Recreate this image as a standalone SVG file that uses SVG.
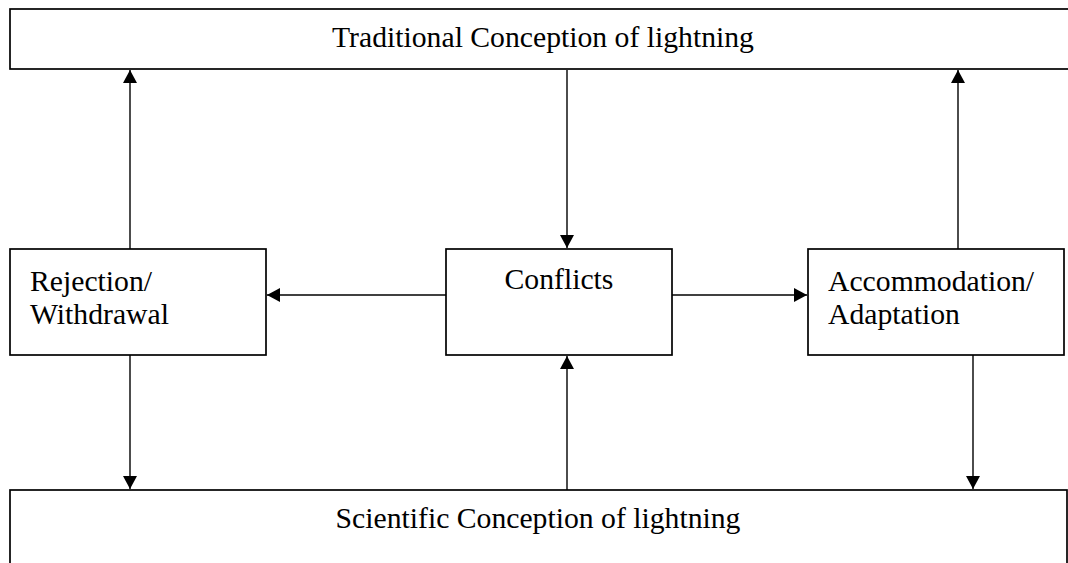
<svg xmlns="http://www.w3.org/2000/svg" width="1068" height="563" viewBox="0 0 1068 563">
<style>
.box{fill:#fff;stroke:#000;stroke-width:1.7}
text{font-family:'Liberation Serif','Times New Roman',Times,serif;font-size:29.7px;fill:#000}
.c{stroke:#000;stroke-width:1.4;fill:none;marker-end:url(#ah)}
</style>
<defs>
<marker id="ah" markerUnits="userSpaceOnUse" markerWidth="14" markerHeight="14" refX="13" refY="7" orient="auto">
<path d="M0,0 L13,7 L0,14 Z" fill="#000"/>
</marker>
</defs>
<rect width="1068" height="563" fill="#fff"/>
<g id="traditional">
<rect class="box" x="10" y="9" width="1070" height="60"/>
<text x="543" y="47" text-anchor="middle">Traditional Conception of lightning</text>
</g>
<g id="scientific">
<rect class="box" x="10" y="490" width="1057" height="90"/>
<text x="538" y="528" text-anchor="middle">Scientific Conception of lightning</text>
</g>
<g id="rejection">
<rect class="box" x="10" y="249" width="256" height="106"/>
<text x="30" y="291">Rejection/</text>
<text x="30" y="324">Withdrawal</text>
</g>
<g id="conflicts">
<rect class="box" x="446" y="249" width="226" height="106"/>
<text x="559" y="289" text-anchor="middle">Conflicts</text>
</g>
<g id="accommodation">
<rect class="box" x="808" y="249" width="256" height="106"/>
<text x="828" y="291">Accommodation/</text>
<text x="828" y="324">Adaptation</text>
</g>
<g id="connectors">
<line class="c" x1="130" y1="249" x2="130" y2="70"/>
<line class="c" x1="958" y1="249" x2="958" y2="70"/>
<line class="c" x1="567" y1="70" x2="567" y2="248"/>
<line class="c" x1="567" y1="490" x2="567" y2="356"/>
<line class="c" x1="446" y1="295" x2="267" y2="295"/>
<line class="c" x1="672" y1="295" x2="807" y2="295"/>
<line class="c" x1="130" y1="355" x2="130" y2="489"/>
<line class="c" x1="973" y1="355" x2="973" y2="489"/>
</g>
</svg>
